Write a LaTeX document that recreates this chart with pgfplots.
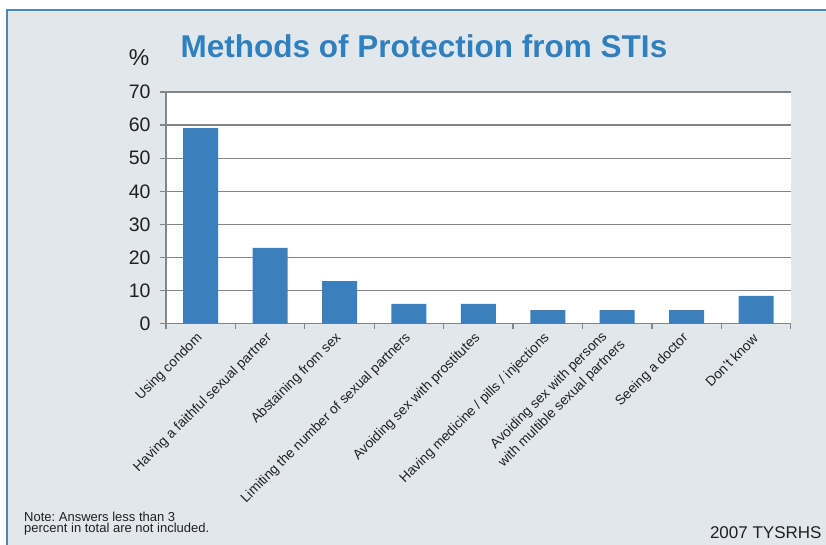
\documentclass[border=0pt]{standalone}
\usepackage{fontspec}
\setmainfont{Liberation Sans}
\usepackage{pgfplots}
\pgfplotsset{compat=1.18}
\definecolor{bg}{HTML}{E2E7EC}
\definecolor{framec}{HTML}{3A8CCB}
\definecolor{barc}{HTML}{3B80BD}
\definecolor{ttl}{HTML}{2F80BF}
\definecolor{gridc}{HTML}{858585}
\definecolor{txt}{HTML}{231F20}
\begin{document}
\frenchspacing
\begin{tikzpicture}[x=1bp,y=1bp]
\useasboundingbox (0,0) rectangle (826,-545);
\fill[bg] (7,-10) rectangle (826,-545);
\draw[framec, line width=1.5bp] (7,-545) -- (7,-10) -- (826,-10);
\begin{axis}[
  at={(166bp,-323.7bp)}, anchor=south west,
  scale only axis, width=624.7bp, height=231.7bp,
  xmin=-0.5, xmax=8.5, ymin=0, ymax=70,
  ytick={0,10,...,70},
  xtick={0,...,8},
  minor xtick={-0.5,0.5,...,8.5},
  xticklabels={Using condom, Having a faithful sexual partner, Abstaining from sex, Limiting the number of sexual partners, Avoiding sex with prostitutes, Having medicine / pills / injections, {Avoiding sex with persons\\[2.5bp]with multible sexual partners}, Seeing a doctor, Don’t know},
  axis background/.style={fill=white},
  ymajorgrids, grid style={gridc, line width=1.3bp},
  axis x line*=bottom, axis y line*=left,
  axis line style={gridc, line width=1.3bp, -},
  tick align=outside,
  major tick length=6bp, minor tick length=5bp,
  every tick/.style={gridc, line width=1.3bp},
  major x tick style={draw=none},
  /pgf/number format/assume math mode=true,
  yticklabel style={xshift=-6bp, font=\fontsize{19.5bp}{21bp}\selectfont, text=txt},
  xticklabel style={xshift=2bp, yshift=-4bp, rotate=45, anchor=east, align=center, font=\fontsize{13.7bp}{16bp}\selectfont, text=txt},
]
\addplot[ybar, fill=barc, draw=none, bar width=35bp] coordinates {(0,59.1)(1,22.9)(2,12.9)(3,6)(4,6)(5,4.1)(6,4.1)(7,4.1)(8,8.4)};
\end{axis}
\node[anchor=base, text=ttl, font=\fontsize{31.5bp}{34bp}\selectfont\bfseries] at (424,-57.3) {Methods of Protection from STIs};
\node[text=txt, font=\fontsize{23bp}{25bp}\selectfont] at (139,-58) {\%};
\node[anchor=base west, text=txt, font=\fontsize{13bp}{11.3bp}\selectfont, align=left, inner sep=0pt] at (24,-532.3) {Note: Answers less than 3\\percent in total are not included.};
\node[anchor=base east, text=txt, font=\fontsize{17bp}{19bp}\selectfont, inner sep=0pt] at (821.7,-538.3) {2007 TYSRHS};
\end{tikzpicture}
\end{document}
